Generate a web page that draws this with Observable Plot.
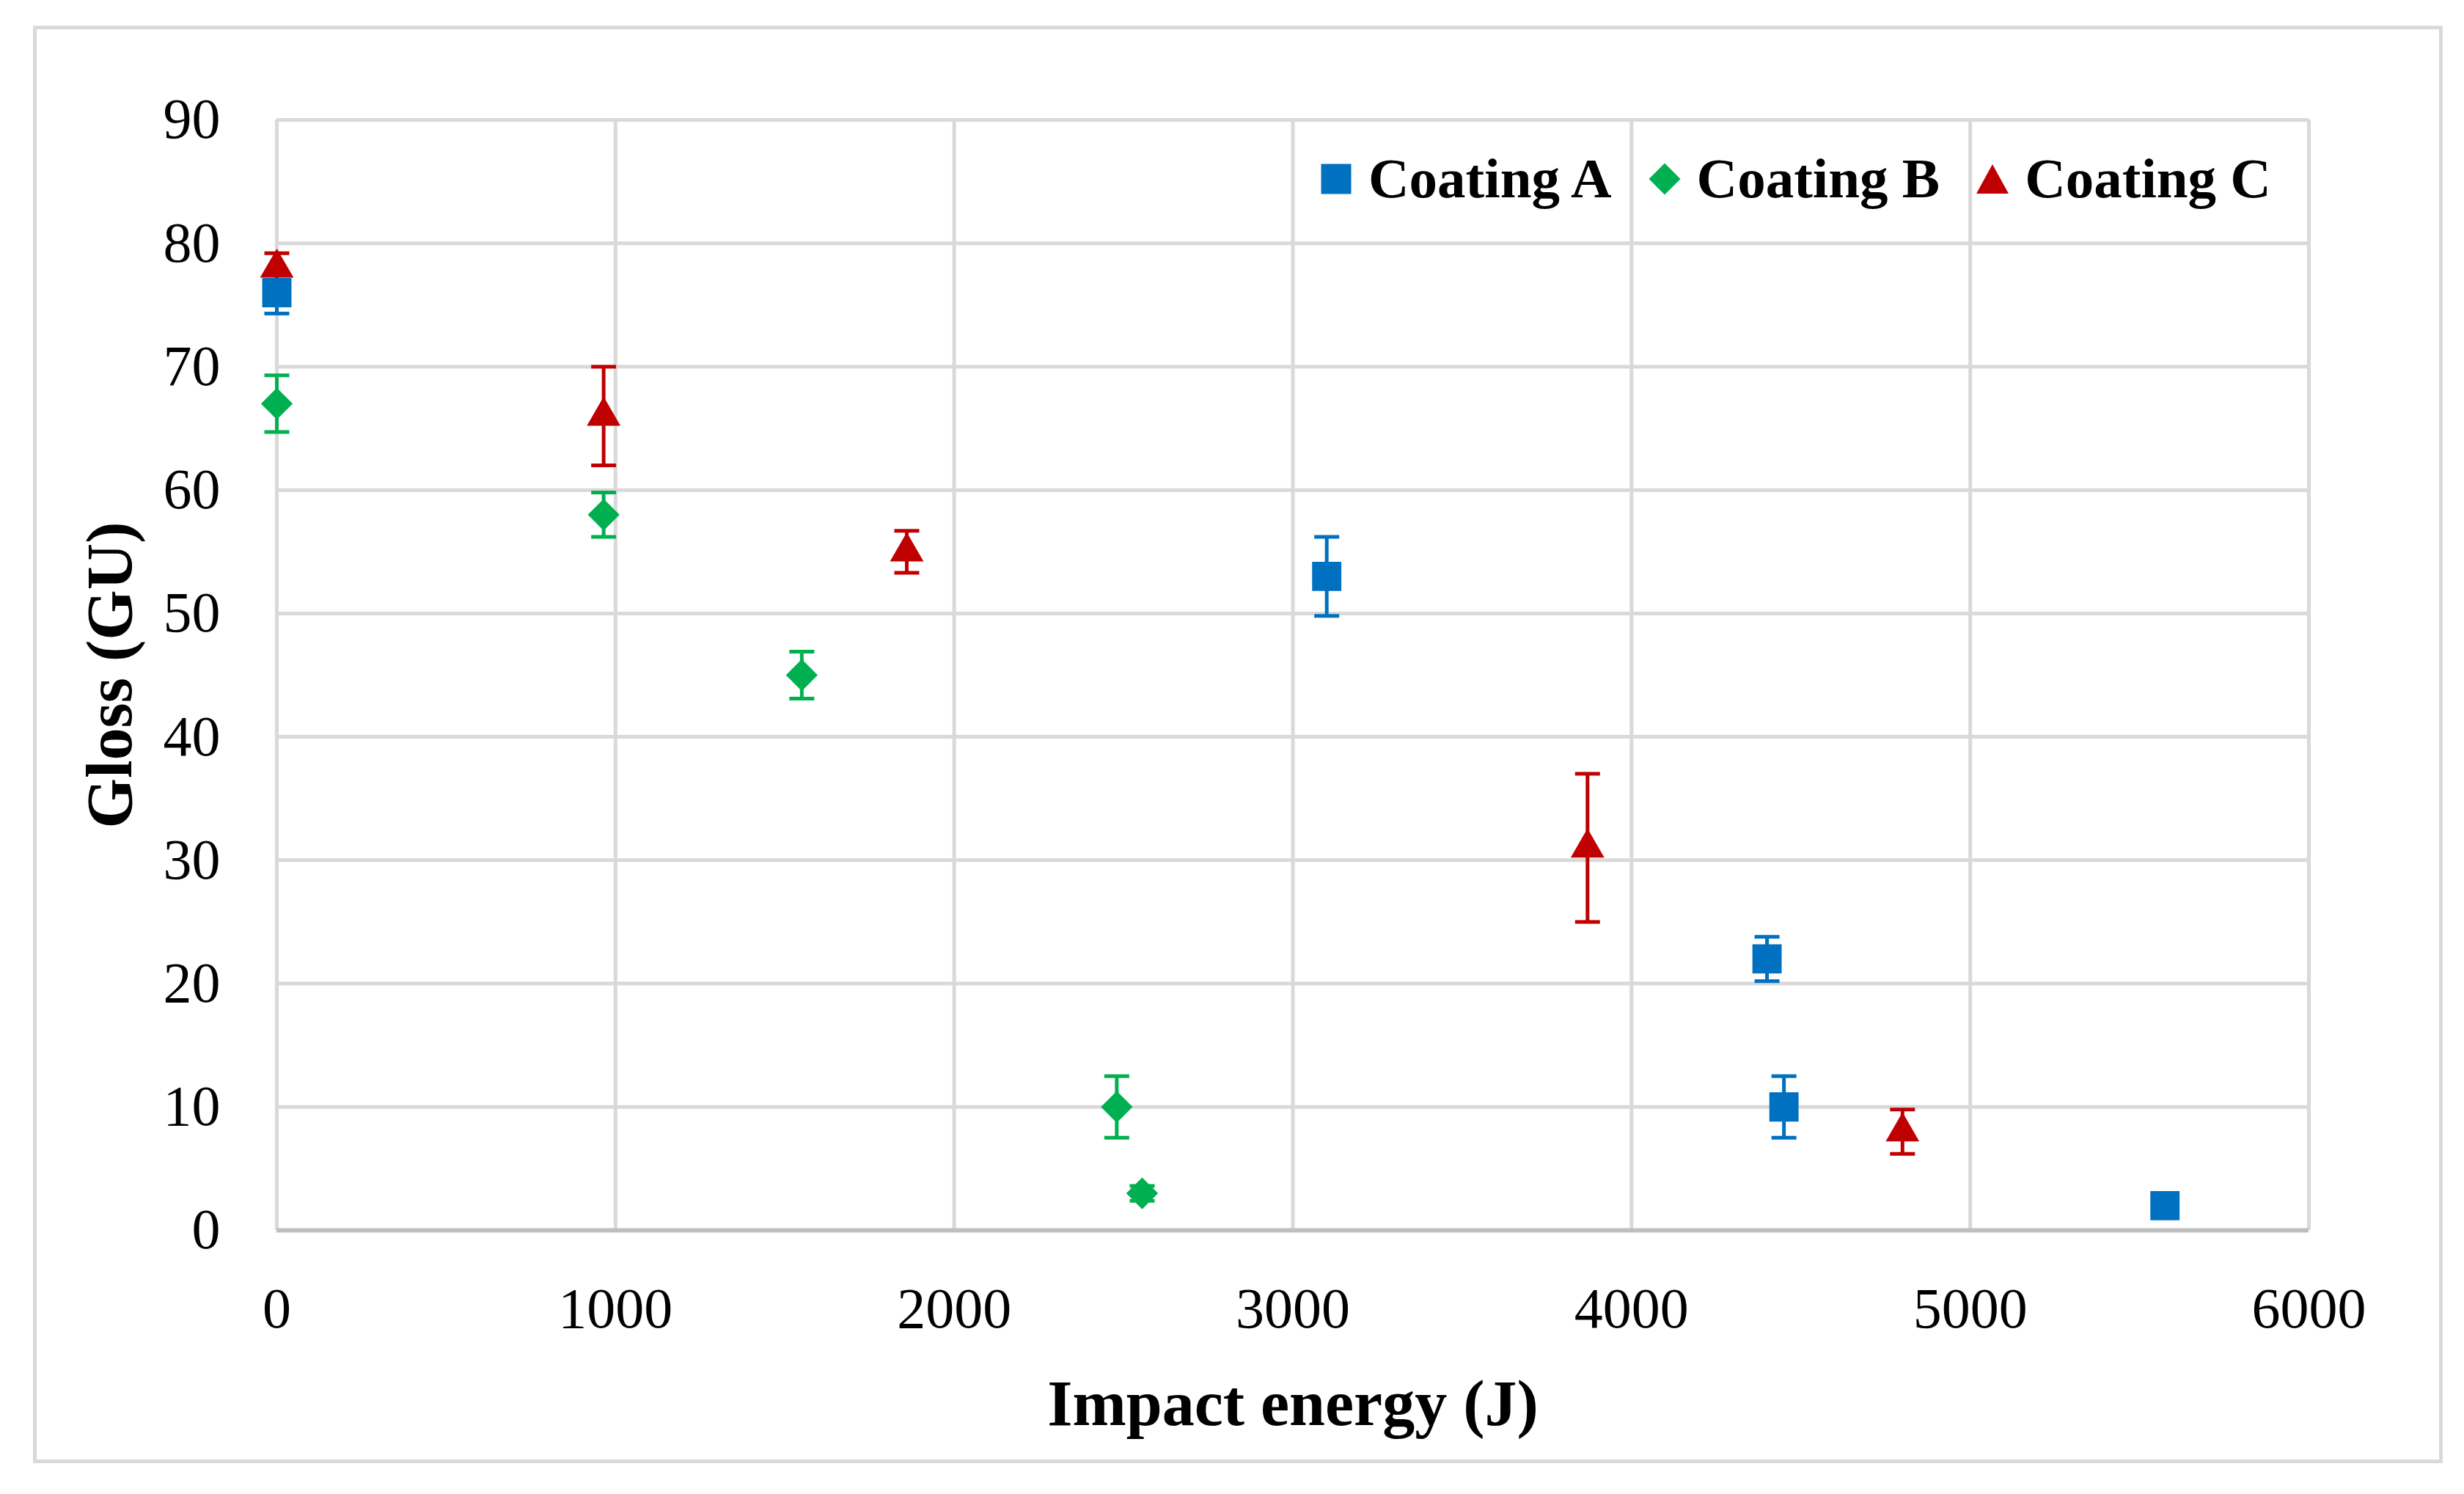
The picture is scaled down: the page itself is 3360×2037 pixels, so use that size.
<!DOCTYPE html>
<html>
<head>
<meta charset="utf-8">
<script src="https://cdn.jsdelivr.net/npm/d3@7"></script>
<script src="https://cdn.jsdelivr.net/npm/@observablehq/plot@0.6"></script>
<style>
html, body { margin: 0; padding: 0; background: #fff; }
#wrap { position: relative; width: 3360px; height: 2037px; overflow: hidden; background: #fff; }
#chart { position: absolute; left: 0; top: 0; }
#frame { position: absolute; left: 45px; top: 35px; width: 3276px; height: 1950px; border: 5px solid #d9d9d9; pointer-events: none; }
#legend { position: absolute; left: 1800px; top: 205px; display: flex; align-items: center;
  font-family: 'Liberation Serif', serif; font-weight: bold; font-size: 77px; line-height: 1; color: #000; }
#legend .item { display: flex; align-items: center; margin-right: 50px; }
#legend .item svg { margin-right: 22px; }
</style>
</head>
<body>
<div id="wrap">
  <div id="chart"></div>
  <div id="frame"></div>
  <div id="legend"></div>
</div>
<script>
// ---- data ----
const seriesNames = ["Coating A", "Coating B", "Coating C"];
const seriesColors = ["#0070C0", "#00B050", "#C00000"];

const energyA = [0, 3100, 4400, 4450, 5575];
const glossA  = [76, 53, 22, 10, 2];
const errA    = [1.7, 3.2, 1.8, 2.5, 0.6];

const energyB = [0, 965, 1550, 2480, 2555];
const glossB  = [67, 58, 45, 10, 3];
const errB    = [2.3, 1.8, 1.9, 2.5, 0.6];

const energyC = [0, 965, 1860, 3870, 4800];
const glossC  = [78, 66, 55, 31, 8];
const errC    = [1.2, 4.0, 1.7, 6.0, 1.8];

const xTicks = [0, 1000, 2000, 3000, 4000, 5000, 6000];
const yTicks = [0, 10, 20, 30, 40, 50, 60, 70, 80, 90];

const xLabel = "Impact energy (J)";
const yLabel = "Gloss (GU)";

// ---- build rows ----
function rows(name, xs, ys, es) {
  return xs.map((x, i) => ({series: name, x, y: ys[i], e: es[i]}));
}
const dataA = rows(seriesNames[0], energyA, glossA, errA);
const dataB = rows(seriesNames[1], energyB, glossB, errB);
const dataC = rows(seriesNames[2], energyC, glossC, errC);
const all = [...dataA, ...dataB, ...dataC];

const capSymbol = {
  draw(context, size) {
    const w = Math.sqrt(size / Math.PI);
    context.moveTo(-w, 0);
    context.lineTo(w, 0);
  }
};

const colorScale = {domain: seriesNames, range: seriesColors};
const gridStyle = {stroke: "#d9d9d9", strokeOpacity: 1, strokeWidth: 5};

const chart = Plot.plot({
  width: 3360,
  height: 2037,
  marginLeft: 377,
  marginRight: 212,
  marginTop: 163,
  marginBottom: 360,
  x: {domain: [0, 6000]},
  y: {domain: [0, 90]},
  color: colorScale,
  style: {fontFamily: "'Liberation Serif', serif", fontSize: "78px", color: "#000", background: "#fff"},
  marks: [
    Plot.gridX(xTicks, gridStyle),
    Plot.gridY(yTicks, gridStyle),
    Plot.ruleY([0], {stroke: "#bfbfbf", strokeWidth: 6}),
    Plot.axisX({ticks: xTicks, tickSize: 0, tickPadding: 77, tickFormat: d3.format("d"), label: null}),
    Plot.axisY({ticks: yTicks, tickSize: 0, tickPadding: 77, tickFormat: d3.format("d"), label: null}),
    // error bars
    Plot.ruleX(all, {x: "x", y1: d => d.y - d.e, y2: d => d.y + d.e, stroke: "series", strokeWidth: 5}),
    Plot.dot(all, {x: "x", y: d => d.y + d.e, symbol: capSymbol, r: 17, stroke: "series", fill: "none", strokeWidth: 5}),
    Plot.dot(all, {x: "x", y: d => d.y - d.e, symbol: capSymbol, r: 17, stroke: "series", fill: "none", strokeWidth: 5}),
    // markers
    Plot.dot(dataA, {x: "x", y: "y", symbol: "square", r: 22.5, fill: seriesColors[0], stroke: "none"}),
    Plot.dot(dataB, {x: "x", y: "y", symbol: "diamond2", r: 19.5, fill: seriesColors[1], stroke: "none"}),
    Plot.dot(dataC, {x: "x", y: "y", symbol: "triangle", r: 17, fill: seriesColors[2], stroke: "none"}),
    // axis titles
    Plot.text([xLabel], {text: d => d, frameAnchor: "bottom", textAnchor: "middle", dy: 265, fontSize: 88, fontWeight: "bold", fill: "#000"}),
    Plot.text([yLabel], {text: d => d, frameAnchor: "left", textAnchor: "middle", dx: -227, rotate: -90, fontSize: 88, fontWeight: "bold", fill: "#000"})
  ]
});
document.getElementById("chart").appendChild(chart);

// ---- legend ----
const legendShapes = [
  '<rect x="1.5" y="1.5" width="41" height="41" />',
  '<polygon points="22,0.5 43.5,22 22,43.5 0.5,22" />',
  '<polygon points="22,2 44,42 0,42" />'
];
const legend = document.getElementById("legend");
seriesNames.forEach((name, i) => {
  const item = document.createElement("div");
  item.className = "item";
  item.innerHTML = `<svg width="44" height="44" viewBox="0 0 44 44"><g fill="${seriesColors[i]}">${legendShapes[i]}</g></svg><span>${name}</span>`;
  legend.appendChild(item);
});
</script>
</body>
</html>
